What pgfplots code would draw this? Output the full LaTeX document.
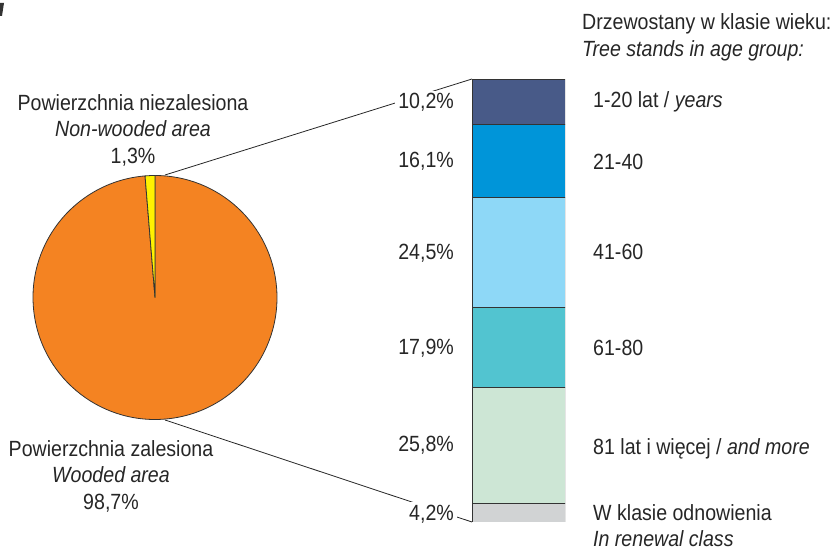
\documentclass[border=0pt]{standalone}
\usepackage{pgfplots}
\pgfplotsset{compat=1.18}
\usepackage{pgfplotstable}
\usepackage{fontspec}
\setmainfont[FakeStretch=0.89]{Liberation Sans}
\definecolor{cOrange}{HTML}{F48322}
\definecolor{cYellow}{HTML}{FFF200}
\definecolor{cA}{HTML}{485A88}
\definecolor{cB}{HTML}{0095D9}
\definecolor{cC}{HTML}{8ED8F7}
\definecolor{cD}{HTML}{52C4D0}
\definecolor{cE}{HTML}{CDE6D5}
\definecolor{cF}{HTML}{D1D3D4}
\definecolor{cEdge}{HTML}{333333}
% pie shares (%)
\def\pieNonWooded{1.3}
\def\pieWooded{98.7}
\begin{document}
\begin{tikzpicture}[every node/.style={font=\fontsize{22bp}{26bp}\selectfont, text=black!85, inner sep=0pt}]
\useasboundingbox (0,0) rectangle (832bp,551bp);
\begin{axis}[at={(0,0)}, anchor=south west, width=832bp, height=551bp, scale only axis,
  xmin=0, xmax=832, ymin=0, ymax=551, axis lines=none, clip=false]
  % pie
  \pgfmathsetmacro{\angEnd}{90+\pieNonWooded*3.6}
  \fill[cOrange, draw=cEdge, line width=0.8bp] (axis cs:155,253.5) -- ++(\angEnd:122bp)
      arc[start angle=\angEnd, end angle=450, radius=122bp] -- cycle;
  \fill[cYellow, draw=cEdge, line width=0.8bp] (axis cs:155,253.5) -- ++(90:122bp)
      arc[start angle=90, end angle=\angEnd, radius=122bp] -- cycle;
  % connectors
  \draw[black!85, line width=0.8bp] (axis cs:165,376) -- (axis cs:472,472);
  \draw[black!85, line width=0.8bp] (axis cs:165,131) -- (axis cs:472,29);
  % pie labels
  \node[anchor=base] at (axis cs:133,440) {Powierzchnia niezalesiona};
  \node[anchor=base] at (axis cs:133,414) {\itshape Non-wooded area};
  \node[anchor=base] at (axis cs:133,387) {1,3\%};
  \node[anchor=base] at (axis cs:111,94) {Powierzchnia zalesiona};
  \node[anchor=base] at (axis cs:111,68) {\itshape Wooded area};
  \node[anchor=base] at (axis cs:111,41) {98,7\%};
  % percentages
  \node[anchor=base east, fill=white, inner xsep=3bp, inner ysep=3bp] at (axis cs:457,442) {10,2\%};
  \node[anchor=base east] at (axis cs:454,383) {16,1\%};
  \node[anchor=base east] at (axis cs:454,291) {24,5\%};
  \node[anchor=base east] at (axis cs:454,196) {17,9\%};
  \node[anchor=base east] at (axis cs:454,99) {25,8\%};
  \node[anchor=base east, fill=white, inner xsep=3bp, inner ysep=3bp] at (axis cs:457,31) {4,2\%};
  % categories
  \node[anchor=base west] at (axis cs:582,521) {Drzewostany w klasie wieku:};
  \node[anchor=base west] at (axis cs:582,494) {\itshape Tree stands in age group:};
  \node[anchor=base west] at (axis cs:593,443) {1-20 lat / \itshape years};
  \node[anchor=base west] at (axis cs:593,381) {21-40};
  \node[anchor=base west] at (axis cs:593,291) {41-60};
  \node[anchor=base west] at (axis cs:593,195) {61-80};
  \node[anchor=base west] at (axis cs:593,96) {81 lat i więcej / \itshape and more};
  \node[anchor=base west] at (axis cs:593,31) {W klasie odnowienia};
  \node[anchor=base west] at (axis cs:593,5) {\itshape In renewal class};
  % corner mark
  \fill[black!80] (axis cs:0,548) -- (axis cs:4,548) -- (axis cs:2,535) -- (axis cs:0,535) -- cycle;
\end{axis}
\begin{axis}[at={(472bp,29bp)}, anchor=south west, width=93bp, height=443bp, scale only axis,
  xmin=-0.5, xmax=0.5, ymin=0, ymax=98.7, axis lines=none, ybar stacked, bar width=93bp,
  every axis plot/.append style={draw=cEdge, line width=0.8bp}]
  \addplot[fill=cF] coordinates {(0,4.2)};
  \addplot[fill=cE] coordinates {(0,25.8)};
  \addplot[fill=cD] coordinates {(0,17.9)};
  \addplot[fill=cC] coordinates {(0,24.5)};
  \addplot[fill=cB] coordinates {(0,16.1)};
  \addplot[fill=cA] coordinates {(0,10.2)};
\end{axis}
\end{tikzpicture}
\end{document}
